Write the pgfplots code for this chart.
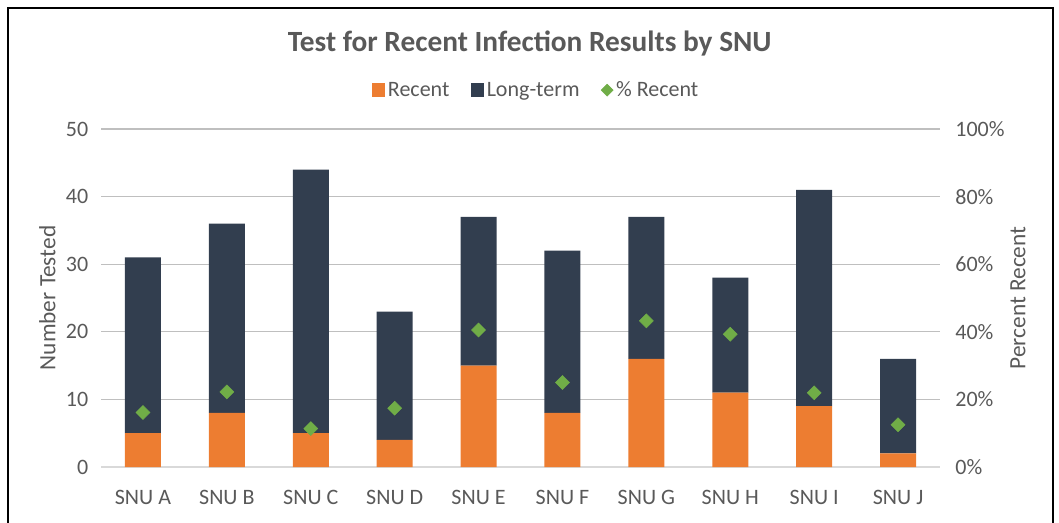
\documentclass[border=0pt]{standalone}
\usepackage{fontspec}
\setmainfont{Carlito}
\usepackage{pgfplots}
\pgfplotsset{compat=1.18}
\definecolor{recent}{HTML}{ED7D31}
\definecolor{longterm}{HTML}{323E4F}
\definecolor{pct}{HTML}{70AD47}
\definecolor{txt}{HTML}{595959}
\definecolor{grid}{HTML}{D9D9D9}
\begin{document}
\begin{tikzpicture}
\useasboundingbox (0pt,0pt) rectangle (794.25pt,391.5pt);
\draw[line width=1.5pt,black] (6pt,-8pt) rectangle (789.75pt,385.5pt);
\begin{axis}[
  at={(75.75pt,41.25pt)}, anchor=south west,
  scale only axis, width=629.25pt, height=253.5pt,
  ybar stacked, bar width=27pt,
  xmin=-0.5, xmax=9.5, ymin=0, ymax=50,
  xtick={0,...,9},
  xticklabels={SNU A,SNU B,SNU C,SNU D,SNU E,SNU F,SNU G,SNU H,SNU I,SNU J},
  ytick={0,10,...,50},
  axis y line*=left, axis x line*=bottom,
  axis line style={draw=none},
  x axis line style={draw=grid, line width=0.9pt},
  major tick length=0pt, tick style={draw=none},
  ymajorgrids, xmajorgrids=false, grid style={grid, line width=0.9pt},
  /pgf/number format/assume math mode=true,
  ticklabel style={font=\fontsize{16.5}{18}\selectfont, text=txt},
  yticklabel style={xshift=-6pt},
  xticklabel style={yshift=-14pt},
  ylabel={Number Tested},
  ylabel style={at={(axis description cs:-0.064,0.5)}, anchor=center, font=\fontsize{17.5}{19}\selectfont, text=txt},
  title={\bfseries Test for Recent Infection Results by SNU},
  title style={at={(axis description cs:0.511,1.23)}, anchor=center, font=\fontsize{22}{24}\selectfont, text=txt},
  legend style={at={(axis description cs:0.519,1.115)}, anchor=center, draw=none, fill=none,
    legend columns=3, font=\fontsize{16.5}{18}\selectfont, text=txt,
    /tikz/every even column/.append style={column sep=14pt}},
  legend cell align=left,
]
\addplot+[fill=recent, draw=none, area legend,
  legend image code/.code={\fill[recent] (0pt,-5pt) rectangle (10pt,5pt);}]
  coordinates {(0,5) (1,8) (2,5) (3,4) (4,15) (5,8) (6,16) (7,11) (8,9) (9,2)};
\addlegendentry{Recent}
\addplot+[fill=longterm, draw=none, area legend,
  legend image code/.code={\fill[longterm] (0pt,-5pt) rectangle (10pt,5pt);}]
  coordinates {(0,26) (1,28) (2,39) (3,19) (4,22) (5,24) (6,21) (7,17) (8,32) (9,14)};
\addlegendentry{Long-term}
\addlegendimage{legend image code/.code={\fill[pct] (1pt,0pt) -- ++(4.5pt,4.5pt) -- ++(4.5pt,-4.5pt) -- ++(-4.5pt,-4.5pt) -- cycle;}}
\addlegendentry{\% Recent}
\end{axis}
\begin{axis}[
  at={(75.75pt,41.25pt)}, anchor=south west,
  scale only axis, width=629.25pt, height=253.5pt,
  xmin=-0.5, xmax=9.5, ymin=0, ymax=100,
  axis y line*=right, axis x line=none, xtick=\empty,
  axis line style={draw=none},
  major tick length=0pt, tick style={draw=none},
  ytick={0,20,...,100},
  yticklabels={0\%,20\%,40\%,60\%,80\%,100\%},
  ticklabel style={font=\fontsize{16.5}{18}\selectfont, text=txt},
  yticklabel style={xshift=8pt},
  ylabel={Percent Recent},
  ylabel style={at={(axis description cs:1.093,0.5)}, anchor=center, font=\fontsize{17.5}{19}\selectfont, text=txt},
]
\addplot[only marks, mark=square*, mark size=3.7pt, mark options={rotate=45, fill=pct, draw=pct}]
  coordinates {(0,16.13) (1,22.22) (2,11.36) (3,17.39) (4,40.54) (5,25.0) (6,43.24) (7,39.29) (8,21.95) (9,12.5)};
\end{axis}
\end{tikzpicture}
\end{document}
